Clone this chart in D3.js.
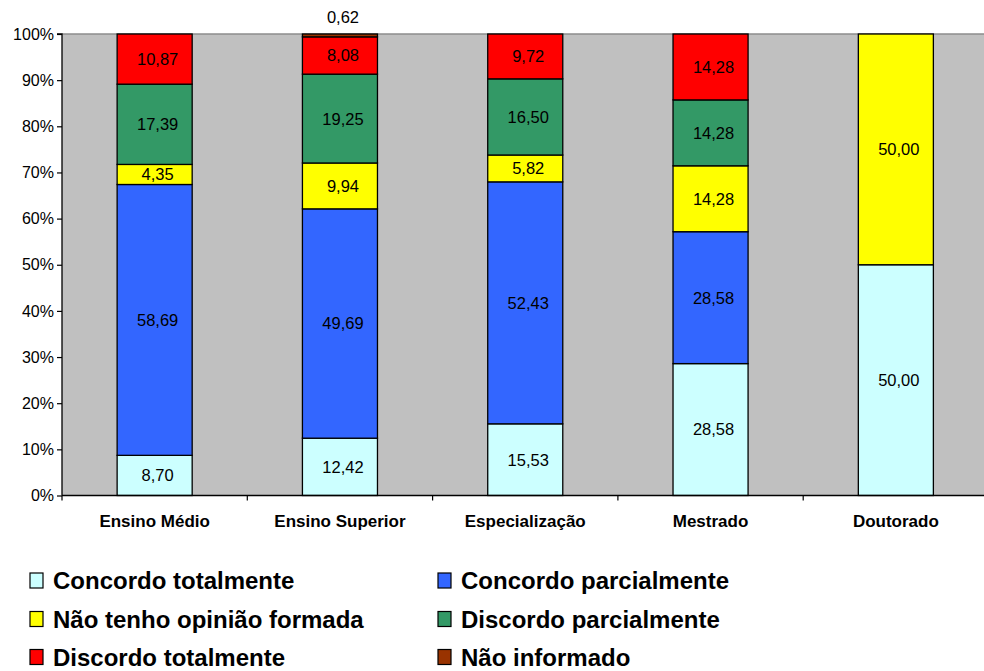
<!DOCTYPE html>
<html><head><meta charset="utf-8">
<script src="https://cdn.jsdelivr.net/npm/d3@7"></script>
<style>
html,body{margin:0;padding:0;background:#fff;}
svg{display:block;font-family:"Liberation Sans",Arial,sans-serif;}
</style></head>
<body><svg id="chart" width="984" height="671"></svg>
<script>
const categories = ["Ensino Médio","Ensino Superior","Especialização","Mestrado","Doutorado"];
const seriesNames = ["Concordo totalmente","Concordo parcialmente","Não tenho opinião formada","Discordo parcialmente","Discordo totalmente","Não informado"];
const concordoTotalmente   = [8.70, 12.42, 15.53, 28.58, 50.00];
const concordoParcialmente = [58.69, 49.69, 52.43, 28.58, 0];
const naoTenhoOpiniao      = [4.35, 9.94, 5.82, 14.28, 50.00];
const discordoParcialmente = [17.39, 19.25, 16.50, 14.28, 0];
const discordoTotalmente   = [10.87, 8.08, 9.72, 14.28, 0];
const naoInformado         = [0, 0.62, 0, 0, 0];
const colors = ["#CCFFFF","#3366FF","#FFFF00","#339966","#FF0000","#993300"];
const yTicks = [0,10,20,30,40,50,60,70,80,90,100];

const seriesValues = [concordoTotalmente, concordoParcialmente, naoTenhoOpiniao, discordoParcialmente, discordoTotalmente, naoInformado];
const rows = categories.map((c,i)=>{
  const r = {cat:c};
  seriesNames.forEach((s,j)=> r[s] = seriesValues[j][i]);
  return r;
});

const svg = d3.select("#chart");
const pLeft = 62, pRight = 984, pTop = 34, pBottom = 495.5;
const x = d3.scaleBand().domain(categories).range([pLeft, pLeft + 185.3*5]).paddingInner(0.595).paddingOuter(0.2975);
const y = d3.scaleLinear().domain([0,100]).range([pBottom, pTop]);

// plot background
svg.append("rect").attr("x",pLeft).attr("y",pTop).attr("width",pRight-pLeft).attr("height",pBottom-pTop).attr("fill","#C0C0C0");
svg.append("line").attr("x1",pLeft).attr("x2",pRight).attr("y1",pTop).attr("y2",pTop).attr("stroke","#8c8c8c").attr("stroke-width",1.5);

const stack = d3.stack().keys(seriesNames)(rows);

const g = svg.append("g");
stack.forEach((layer,j)=>{
  g.selectAll(null).data(layer.filter(d=>d[1]-d[0]>0)).enter().append("rect")
    .attr("x", d=>x(d.data.cat))
    .attr("width", x.bandwidth())
    .attr("y", d=>y(d[1]))
    .attr("height", d=>y(d[0])-y(d[1]))
    .attr("fill", colors[j])
    .attr("stroke","#000").attr("stroke-width",1.3);
});

// value labels
const fmt = v => v.toFixed(2).replace(".", ",");
stack.forEach((layer,j)=>{
  layer.forEach(d=>{
    const v = d[1]-d[0];
    if (v <= 0) return;
    let cy = (y(d[0])+y(d[1]))/2;
    if (v < 2) cy = 17;
    svg.append("text")
      .attr("x", x(d.data.cat)+x.bandwidth()/2 + 3)
      .attr("y", cy)
      .attr("dy","0.36em")
      .attr("text-anchor","middle")
      .attr("font-size","16.5px")
      .attr("fill","#000")
      .text(fmt(v));
  });
});

// y axis
const yAxis = d3.axisLeft(y).tickValues(yTicks).tickFormat(d=>d+"%").tickSize(5).tickPadding(3);
const ya = svg.append("g").attr("transform",`translate(${pLeft},0)`).call(yAxis);
ya.select(".domain").attr("stroke","#000").attr("stroke-width",1.3).attr("d",`M-5,${pTop}H0V${pBottom}`);
ya.selectAll(".tick line").attr("stroke","#000").attr("stroke-width",1.2);
ya.selectAll(".tick text").attr("font-size","16px").attr("fill","#000").attr("font-family","Liberation Sans, Arial, sans-serif");

// x axis
svg.append("line").attr("x1",pLeft).attr("x2",pRight).attr("y1",pBottom).attr("y2",pBottom).attr("stroke","#000").attr("stroke-width",1.3);
categories.forEach((c,i)=>{
  const bx = x(c) - x.step()*x.paddingInner()/2 ;
  if (i>0) svg.append("line").attr("x1",bx).attr("x2",bx).attr("y1",pBottom).attr("y2",pBottom+5).attr("stroke","#000").attr("stroke-width",1.2);
  svg.append("text").attr("x", x(c)+x.bandwidth()/2).attr("y",527)
    .attr("text-anchor","middle").attr("font-size","17px").attr("font-weight","bold").attr("fill","#000").text(c);
});
svg.append("line").attr("x1",pLeft).attr("x2",pLeft).attr("y1",pBottom).attr("y2",pBottom+5).attr("stroke","#000").attr("stroke-width",1.2);

// legend
const legX = [29, 437], legY = [589, 627.5, 665.5];
seriesNames.forEach((s,j)=>{
  const lx = legX[j%2], ly = legY[Math.floor(j/2)];
  svg.append("rect").attr("x",lx+1).attr("y",ly-16).attr("width",13).attr("height",15)
    .attr("fill",colors[j]).attr("stroke","#000").attr("stroke-width",1.2);
  svg.append("text").attr("x",lx+24).attr("y",ly).attr("font-size","24px").attr("font-weight","bold").attr("fill","#000").text(s);
});
</script></body></html>
